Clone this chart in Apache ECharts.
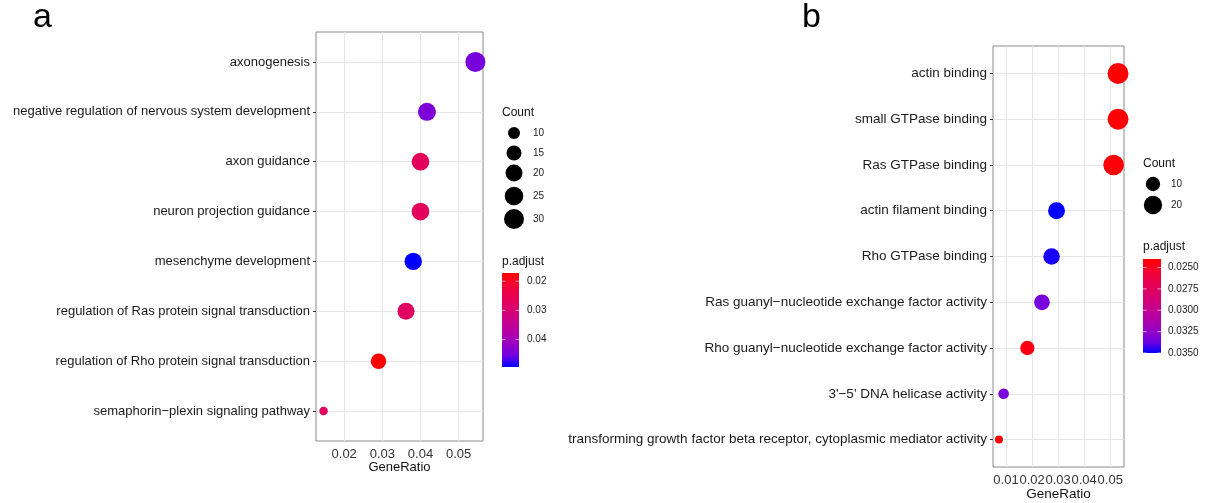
<!DOCTYPE html>
<html><head><meta charset="utf-8">
<script src="https://cdn.jsdelivr.net/npm/echarts@6/dist/echarts.min.js"></script>
<style>html,body{margin:0;padding:0;background:#fff}#c{width:1206px;height:503px}</style>
</head><body><div id="c"></div>
<script>
// ---------- Panel a data ----------
const termsA = [
  'axonogenesis',
  'negative regulation of nervous system development',
  'axon guidance',
  'neuron projection guidance',
  'mesenchyme development',
  'regulation of Ras protein signal transduction',
  'regulation of Rho protein signal transduction',
  'semaphorin\u2212plexin signaling pathway'
];
const ratioA = [0.0544, 0.0417, 0.0400, 0.0400, 0.0381, 0.0362, 0.0290, 0.0146];
const countA = [30, 23, 22, 22, 21, 20, 16, 8];
const padjA  = [0.0449, 0.0442, 0.0269, 0.0269, 0.0494, 0.0275, 0.0172, 0.0275];
const xTicksA = [0.02, 0.03, 0.04, 0.05];
const xMinorA = [0.015, 0.025, 0.035, 0.045, 0.055];
const countBreaksA = [10, 15, 20, 25, 30];
const padjBreaksA = [0.02, 0.03, 0.04];

// ---------- Panel b data ----------
const termsB = [
  'actin binding',
  'small GTPase binding',
  'Ras GTPase binding',
  'actin filament binding',
  'Rho GTPase binding',
  'Ras guanyl\u2212nucleotide exchange factor activity',
  'Rho guanyl\u2212nucleotide exchange factor activity',
  "3'\u22125' DNA helicase activity",
  'transforming growth factor beta receptor, cytoplasmic mediator activity'
];
const ratioB = [0.0530, 0.0530, 0.0513, 0.0294, 0.0275, 0.0238, 0.0182, 0.0091, 0.0073];
const countB = [29, 29, 28, 16, 15, 13, 10, 5, 4];
const padjB  = [0.0240, 0.0241, 0.0242, 0.0350, 0.0347, 0.0335, 0.0246, 0.0334, 0.0240];
const xTicksB = [0.01, 0.02, 0.03, 0.04, 0.05];
const xMinorB = [0.015, 0.025, 0.035, 0.045, 0.055];
const countBreaksB = [10, 20];
const padjBreaksB = [0.025, 0.0275, 0.03, 0.0325, 0.035];

// red -> blue gradient (Lab-like stops)
const gradStops = ['#FF0000','#F40031','#E80050','#DA006C','#CA0089','#B500A5','#9A00C3','#7300E0','#0000FF'];

const FONT = 'Liberation Sans, Arial, Helvetica, sans-serif';

const panels = [
  { terms: termsA, ratio: ratioA, count: countA, padj: padjA, ticks: xTicksA, minor: xMinorA,
    countBreaks: countBreaksA, padjBreaks: padjBreaksA, fmt: v => v.toFixed(2),
    grid: { left: 316, top: 32, width: 167, height: 409 },
    sizeA: 8.5, sizeB: 11.5, fs: 13, xfs: 13, nameGap: 20,
    lg: { x: 502, cx: 514, lx: 533, countTitleY: 114, countYs: [133, 153, 173, 196, 219],
          padjTitleY: 263, barTop: 273, barH: 94, barW: 17, blx: 527 },
    tag: 'a', tagX: 33 },
  { terms: termsB, ratio: ratioB, count: countB, padj: padjB, ticks: xTicksB, minor: xMinorB,
    countBreaks: countBreaksB, padjBreaks: padjBreaksB, fmt: v => v.toFixed(4),
    grid: { left: 993, top: 46, width: 131, height: 421 },
    sizeA: 8, sizeB: 12.9, fs: 13.5, xfs: 13, nameGap: 20,
    lg: { x: 1143, cx: 1153, lx: 1171, countTitleY: 165, countYs: [184, 205],
          padjTitleY: 248, barTop: 259, barH: 94, barW: 18, blx: 1168 },
    tag: 'b', tagX: 802 }
];

function ext(arr) { const mn = Math.min(...arr), mx = Math.max(...arr); return [mn, mx]; }

const grids = [], xAxes = [], yAxes = [], series = [], visualMaps = [], graphics = [];

panels.forEach((p, k) => {
  const [xmn, xmx] = ext(p.ratio);
  const xr = xmx - xmn;
  const [cmn, cmx] = ext(p.count);
  const [pmn, pmx] = ext(p.padj);
  const sizeFn = c => p.sizeA + p.sizeB * Math.sqrt((c - cmn) / (cmx - cmn));
  const n = p.terms.length;

  grids.push(Object.assign({ show: true, borderColor: '#8a8a8a', borderWidth: 1, backgroundColor: '#fff',
    containLabel: false, outerBoundsMode: 'none' }, p.grid));

  xAxes.push({
    type: 'value', gridIndex: k, min: xmn - 0.05 * xr, max: xmx + 0.05 * xr,
    axisLine: { show: false },
    axisTick: { show: true, length: 3, customValues: p.ticks, lineStyle: { color: '#333' } },
    axisLabel: { customValues: p.ticks, margin: 7, fontSize: p.xfs, fontFamily: FONT, color: '#333',
                 hideOverlap: false, showMinLabel: true, showMaxLabel: true,
                 formatter: v => String(+(+v).toFixed(4)) },
    splitLine: { show: false },
    name: 'GeneRatio', nameLocation: 'middle', nameGap: p.nameGap, nameMoveOverlap: false,
    nameTextStyle: { fontSize: p.fs, fontFamily: FONT, color: '#111' }
  });

  const yTicks = p.terms.map((t, j) => j);
  yAxes.push({
    type: 'value', gridIndex: k, min: -0.6, max: n - 1 + 0.6, inverse: true,
    axisLine: { show: false },
    axisTick: { show: true, length: 3, customValues: yTicks, lineStyle: { color: '#333' } },
    axisLabel: { customValues: yTicks, margin: 6, fontSize: p.fs, fontFamily: FONT, color: '#1a1a1a',
                 hideOverlap: false, formatter: v => p.terms[Math.round(v)] },
    splitLine: { show: false }
  });

  // grid lines via markLine on the library scales
  series.push({
    type: 'scatter', xAxisIndex: k, yAxisIndex: k, data: [], silent: true, z: 1,
    markLine: {
      silent: true, z: 1, symbol: ['none', 'none'], animation: false, label: { show: false },
      lineStyle: { color: '#E6E6E6', width: 1.1, type: 'solid' },
      emphasis: { disabled: true },
      data: [
        ...p.minor.map(v => ({ xAxis: v, lineStyle: { color: '#ECECEC', width: 0.9, type: 'solid' } })),
        ...p.ticks.map(v => ({ xAxis: v })),
        ...yTicks.map(j => ({ yAxis: j }))
      ]
    }
  });

  series.push({
    type: 'scatter', xAxisIndex: k, yAxisIndex: k, z: 3, animation: false,
    data: p.ratio.map((r, j) => [r, j, p.count[j], p.padj[j]]),
    symbol: 'circle',
    symbolSize: v => sizeFn(v[2]),
    itemStyle: { opacity: 1 }
  });

  visualMaps.push({
    type: 'continuous', show: false, seriesIndex: series.length - 1, dimension: 3,
    min: pmn, max: pmx, inRange: { color: gradStops }
  });

  // ----- legends -----
  const L = p.lg;
  graphics.push({ type: 'text', left: L.x, top: L.countTitleY - 7,
    style: { text: 'Count', font: '12px ' + FONT, fill: '#111' } });
  p.countBreaks.forEach((c, i) => {
    const d = sizeFn(c);
    graphics.push({ type: 'circle', shape: { cx: L.cx, cy: L.countYs[i], r: d / 2 }, style: { fill: '#000' } });
    graphics.push({ type: 'text', x: L.lx, y: L.countYs[i],
      style: { text: String(c), font: '10px ' + FONT, fill: '#222', verticalAlign: 'middle' } });
  });
  graphics.push({ type: 'text', left: L.x, top: L.padjTitleY - 7,
    style: { text: 'p.adjust', font: '12px ' + FONT, fill: '#111' } });
  graphics.push({ type: 'rect', shape: { x: L.x, y: L.barTop, width: L.barW, height: L.barH },
    style: { fill: { type: 'linear', x: 0, y: 0, x2: 0, y2: 1,
      colorStops: gradStops.map((c, i) => ({ offset: i / (gradStops.length - 1), color: c })) } } });
  p.padjBreaks.forEach(v => {
    const y = L.barTop + (v - pmn) / (pmx - pmn) * L.barH;
    const tw = L.barW / 5;
    graphics.push({ type: 'line', shape: { x1: L.x, y1: y, x2: L.x + tw, y2: y }, style: { stroke: '#fff', lineWidth: 0.8, opacity: 0.8 } });
    graphics.push({ type: 'line', shape: { x1: L.x + L.barW - tw, y1: y, x2: L.x + L.barW, y2: y }, style: { stroke: '#fff', lineWidth: 0.8, opacity: 0.8 } });
    graphics.push({ type: 'text', x: L.blx, y: y,
      style: { text: p.fmt(v), font: '10px ' + FONT, fill: '#222', verticalAlign: 'middle' } });
  });

  graphics.push({ type: 'text', x: p.tagX, y: 18,
    style: { text: p.tag, font: '34px ' + FONT, fill: '#000', verticalAlign: 'middle' } });
});

const chart = echarts.init(document.getElementById('c'), null, { renderer: 'canvas' });
chart.setOption({
  backgroundColor: '#fff',
  animation: false,
  grid: grids, xAxis: xAxes, yAxis: yAxes,
  visualMap: visualMaps,
  series: series,
  graphic: graphics
});
</script></body></html>
